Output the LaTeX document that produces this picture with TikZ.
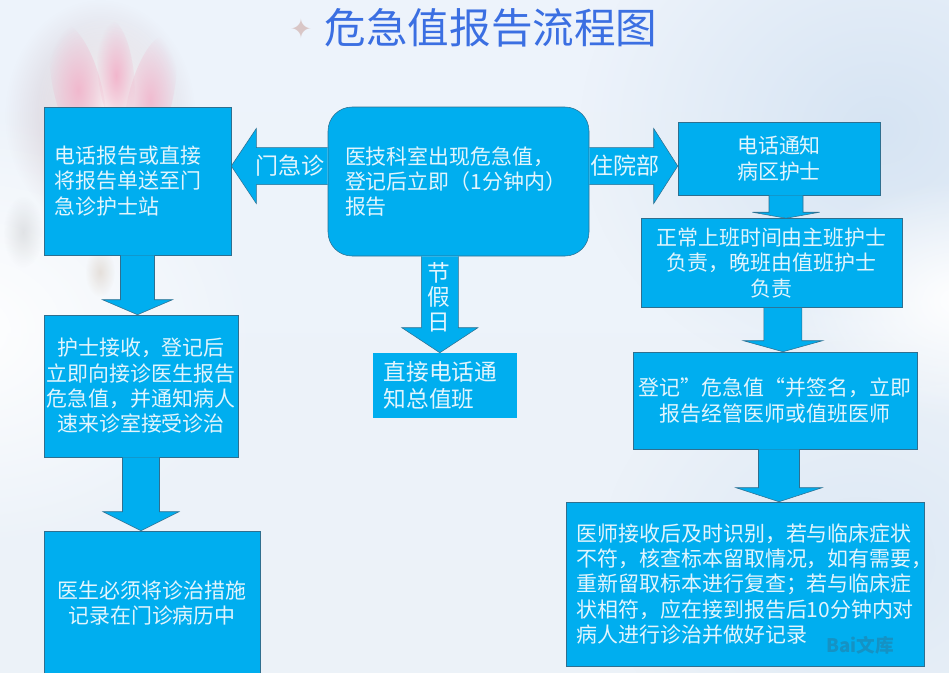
\documentclass[tikz,border=0pt]{standalone}
\usepackage{fontspec}
\setmainfont{Noto Sans CJK SC}
\newfontfamily\symfont{DejaVu Sans}
\usetikzlibrary{calc,fadings}
\definecolor{boxblue}{HTML}{00AEEF}
\definecolor{boxline}{HTML}{2F6F8F}
\definecolor{boxtext}{HTML}{E2F5FD}
\definecolor{titleblue}{HTML}{3B6FE2}
\definecolor{skytop}{HTML}{EDF3FB}
\definecolor{skylow}{HTML}{ECF2F8}
\definecolor{skyside}{HTML}{D6E4F3}
\definecolor{balpink}{HTML}{F3A9C4}
\definecolor{balgray}{HTML}{C9B4BC}
\tikzfading[name=softblob,inner color=transparent!0,middle color=transparent!25,outer color=transparent!100]
\newcommand{\blockarrow}[5]{\coordinate (hb) at ($(#2)!#5*.75pt!(#1)$);
\draw[blk] ($(#1)!#3*.75pt!90:(#2)$)--($(hb)!#3*.75pt!90:(#2)$)--($(hb)!#4*.75pt!90:(#2)$)--(#2)--($(hb)!#4*.75pt!-90:(#2)$)--($(hb)!#3*.75pt!-90:(#2)$)--($(#1)!#3*.75pt!-90:(#2)$);}
\begin{document}
\begin{tikzpicture}[x=.75pt,y=-.75pt,
box/.style 2 args={draw=boxline,fill=boxblue,text=boxtext,inner xsep=8pt,inner ysep=0pt,text width=#1*.75pt-16pt,minimum height=#2*.75pt,align=center,font=\fontsize{15.7}{19}\selectfont},
blk/.style={draw=boxline,fill=boxblue,line join=miter},
lab/.style={text=boxtext,inner sep=0pt,align=center,font=\fontsize{17.3}{18}\selectfont},
blob/.style={path fading=softblob}]
\useasboundingbox (0,0) rectangle (949,672);
\shade[top color=skytop,middle color=white,bottom color=skylow] (0,0) rectangle (949,672);
\fill[skyside,blob] (880,130) ellipse (300 and 260);
\fill[skyside,opacity=.7,blob] (860,560) ellipse (260 and 220);
\fill[white,blob] (960,300) ellipse (170 and 120);
\fill[white,blob] (-40,330) ellipse (300 and 220);
\fill[balgray,opacity=.8,blob] (100,115) ellipse (95 and 115);
\fill[white,opacity=.9,blob] (108,110) ellipse (72 and 95);
\fill[balpink,opacity=.75,blob,rotate around={14:(78,90)}] (78,90) ellipse (24 and 68);
\fill[balpink,opacity=.8,blob,rotate around={6:(116,75)}] (116,75) ellipse (18 and 55);
\fill[balpink,opacity=.7,blob,rotate around={-14:(150,100)}] (150,100) ellipse (22 and 66);
\fill[gray,opacity=.18,blob] (23,232) ellipse (20 and 36);
\fill[orange!30!gray,opacity=.2,blob] (100,272) ellipse (15 and 25);
\node[inner sep=0pt,text=pink!50!gray!60,font=\symfont\fontsize{20}{20}\selectfont] (star) at (301,29) {✦};
\node[inner sep=0pt,text=titleblue,font=\fontsize{31.2}{32}\selectfont] (title) at (491,28) {危急值报告流程图};
\node[box={187}{148},align=left] (a) at (137.5,181) {电话报告或直接\\将报告单送至门\\急诊护士站};
\node[box={194}{142},inner xsep=0pt,text width=145.5pt] (b) at (141,386) {护士接收，登记后\\立即向接诊医生报告\\危急值，并通知病人\\速来诊室接受诊治};
\node[box={216}{144}] (c) at (152,603) {医生必须将诊治措施\\记录在门诊病历中};
\node[box={261}{149},align=left,rounded corners=18pt,inner xsep=12.75pt,text width=170.25pt] (m) at (458.5,181.5) {医技科室出现危急值，\\登记后立即（1分钟内）\\报告};
\node[box={144}{65},align=left,draw=none,font=\fontsize{17}{20}\selectfont] (d) at (445,385.5) {直接电话通\\知总值班};
\node[box={202}{73}] (e) at (779,158.5) {电话通知\\病区护士};
\node[box={261}{89}] (f) at (771.5,263) {正常上班时间由主班护士\\负责，晚班由值班护士\\负责};
\node[box={284}{97},inner xsep=2pt,text width=209pt] (g) at (775,400.5) {登记”危急值“并签名，立即\\报告经管医师或值班医师};
\node[box={358}{164},align=left] (h) at (745,584) {医师接收后及时识别，若与临床症状\\不符，核查标本留取情况，如有需要，\\重新留取标本进行复查；若与临床症\\状相符，应在接到报告后10分钟内对\\病人进行诊治并做好记录};
\coordinate (ml) at ([yshift=11.6pt]m.west);\coordinate (mr) at ([yshift=11.6pt]m.east);
\coordinate (ab) at (a.south);\coordinate (bc) at (b.south);
\coordinate (md) at ([xshift=-14pt]m.south);\coordinate (ef) at ([xshift=5.25pt]e.south);
\coordinate (fg) at ([xshift=8.6pt]f.south);\coordinate (gh) at ([xshift=3pt]g.south);
\blockarrow{ml}{ml -| a.east}{18.5}{37.5}{25}
\blockarrow{mr}{mr -| e.west}{18.5}{37.5}{24}
\blockarrow{ab}{ab |- b.north}{17}{35}{15}
\blockarrow{bc}{bc |- c.north}{18.5}{38}{19}
\blockarrow{md}{md |- d.north}{18.5}{38}{25}
\blockarrow{ef}{ef |- f.north}{17}{33.5}{6}
\blockarrow{fg}{fg |- g.north}{19}{39.5}{11}
\blockarrow{gh}{gh |- h.north}{20.5}{43}{14}
\node[lab] (lb1) at (290,166) {门急诊};
\node[lab] (lb2) at (625,166) {住院部};
\node[lab,font=\fontsize{17}{18.4}\selectfont] (lb3) at (439,297) {节\\假\\日};
\node[inner sep=0pt,text=boxline!45!boxblue,font=\bfseries\fontsize{14}{15}\selectfont] (wm) at (860,645) {Bai文库};
\end{tikzpicture}
\end{document}
